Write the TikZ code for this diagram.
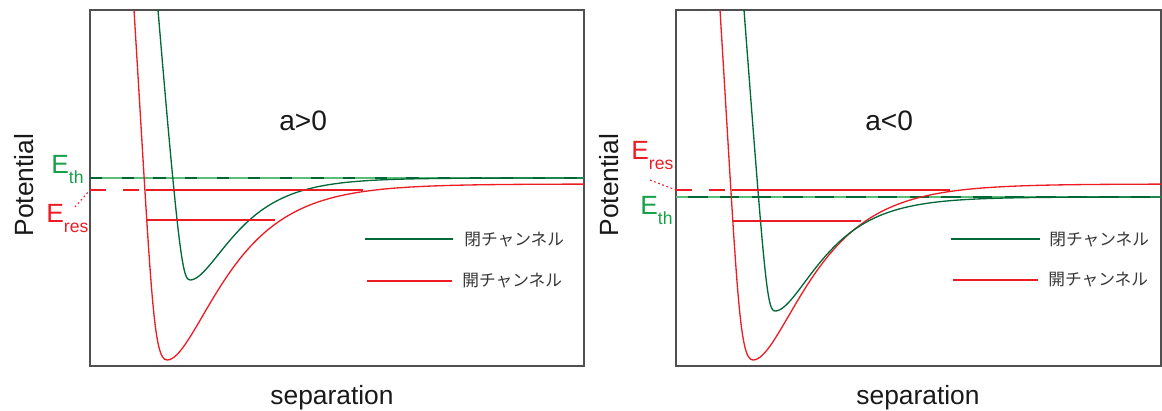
\documentclass[tikz,border=0pt]{standalone}
\usepackage{fontspec}
\setmainfont{Liberation Sans}
\newfontfamily\jpfont{Noto Sans CJK JP}
\usetikzlibrary{calc}
\definecolor{openred}{RGB}{237,28,36}
\definecolor{closedgreen}{RGB}{0,104,55}
\definecolor{thgreen}{RGB}{22,160,72}
\definecolor{thlight}{RGB}{90,190,120}
\definecolor{framegray}{RGB}{80,80,80}
\definecolor{textgray}{RGB}{55,55,55}
\newcommand{\lowsub}[1]{\raisebox{-6pt}{\fontsize{10}{12}\selectfont #1}}

\begin{document}
\begin{tikzpicture}[x=0.02cm, y=-0.02cm,
    declare function={morse(\d,\a)=exp(-2*\a*\d)-2*exp(-\a*\d);},
    panel/.style={draw=framegray, line width=0.85pt},
    opencurve/.style={openred, line width=0.75pt},
    closedcurve/.style={closedgreen, line width=0.75pt},
    reslevel/.style={openred, line width=0.7pt},
    resdash/.style={openred, line width=0.7pt, dash pattern=on 9pt off 10pt},
    resdot/.style={openred, line width=0.6pt, dash pattern=on 1pt off 1.5pt},
    thlevel/.style={line width=0.6pt},
    thdash/.style={line width=0.9pt, dash pattern=on 7pt off 11pt},
    axislabel/.style={inner sep=0pt, font=\fontsize{15}{18}\selectfont, text=black!90},
    signlabel/.style={inner sep=0pt, font=\fontsize{16}{19}\selectfont, text=black!90},
    elabel/.style={inner sep=0pt, anchor=base west, font=\fontsize{15}{18}\selectfont},
    legendtext/.style={inner sep=0pt, anchor=west, font=\jpfont\fontsize{9.5}{11}\selectfont, text=textgray}
]
    \useasboundingbox (0,0) rectangle (1162,410);

    % left panel, a>0
    \draw[panel] (90,10) rectangle (584,366);
    \draw[thlevel, thlight] (90,178) -- (584,178);
    \draw[thdash, closedgreen] (90,178) -- (584,178);
    \draw[opencurve] (134,10) .. controls (151.2,290) and (153,360) .. (167,360)
        -- plot[domain=167:584, samples=180] (\x, {184-176*morse(\x-167,0.0195)});
    \draw[closedcurve] (158,10) .. controls (179,260) and (183,280) .. (190,280)
        -- plot[domain=190:584, samples=180] (\x, {178-102*morse(\x-190,0.0245)});
    \coordinate (resL) at (90,190);
    \coordinate (resLa) at (146,190);
    \coordinate (resLb) at (363,190);
    \coordinate (lowLa) at (147,220);
    \coordinate (lowLb) at (275,220);
    \draw[resdash] (resL) -- (resLa);
    \draw[reslevel] (resLa) -- (resLb);
    \draw[reslevel] (lowLa) -- (lowLb);

    \node[elabel, text=thgreen] (ethL) at (51,173) {E\lowsub{th}};
    \node[elabel, text=openred] (eresL) at (46,222) {E\lowsub{res}};
    \coordinate (dotL) at (75,207);
    \draw[resdot] (dotL) -- (resL);

    \node[signlabel, anchor=base west] (signL) at (279,130) {a>0};
    \node[axislabel, anchor=base, rotate=90] (potL) at (33,185) {Potential};
    \node[axislabel, anchor=base] (sepL) at (332,404) {separation};

    \coordinate (legCLa) at (365,239);
    \coordinate (legCLb) at (453,239);
    \coordinate (legOLa) at (367,281);
    \coordinate (legOLb) at (452,281);
    \draw[closedcurve] (legCLa) -- (legCLb);
    \draw[opencurve] (legOLa) -- (legOLb);
    \node[legendtext] (closedL) at (464,240) {閉チャンネル};
    \node[legendtext] (openL) at (462,281) {開チャンネル};

    % right panel, a<0
    \draw[panel] (676,10) rectangle (1161,366);
    \draw[thlevel, closedgreen] (676,197) -- (1161,197);
    \draw[thdash, thlight] (676,197) -- (1161,197);
    \draw[opencurve] (720,10) .. controls (737.2,290) and (739,360) .. (753,360)
        -- plot[domain=753:1161, samples=180] (\x, {184-176*morse(\x-753,0.0195)});
    \draw[closedcurve] (744,10) .. controls (764.6,280) and (767,311) .. (775,311)
        -- plot[domain=775:1161, samples=180] (\x, {197-114*morse(\x-775,0.0235)});
    \coordinate (resR) at (676,190);
    \coordinate (resRa) at (732,190);
    \coordinate (resRb) at (950,190);
    \coordinate (lowRa) at (733,221);
    \coordinate (lowRb) at (861,221);
    \draw[resdash] (resR) -- (resRa);
    \draw[reslevel] (resRa) -- (resRb);
    \draw[reslevel] (lowRa) -- (lowRb);

    \node[elabel, text=openred] (eresR) at (631,159) {E\lowsub{res}};
    \node[elabel, text=thgreen] (ethR) at (640,214) {E\lowsub{th}};
    \coordinate (dotR) at (650,180);
    \draw[resdot] (dotR) -- (resR);

    \node[signlabel, anchor=base west] (signR) at (865,130) {a<0};
    \node[axislabel, anchor=base, rotate=90] (potR) at (618,185) {Potential};
    \node[axislabel, anchor=base] (sepR) at (918,404) {separation};

    \coordinate (legCRa) at (951,239);
    \coordinate (legCRb) at (1040,239);
    \coordinate (legORa) at (953,280);
    \coordinate (legORb) at (1038,280);
    \draw[closedcurve] (legCRa) -- (legCRb);
    \draw[opencurve] (legORa) -- (legORb);
    \node[legendtext] (closedR) at (1049,240) {閉チャンネル};
    \node[legendtext] (openR) at (1048,280) {開チャンネル};
\end{tikzpicture}
\end{document}
